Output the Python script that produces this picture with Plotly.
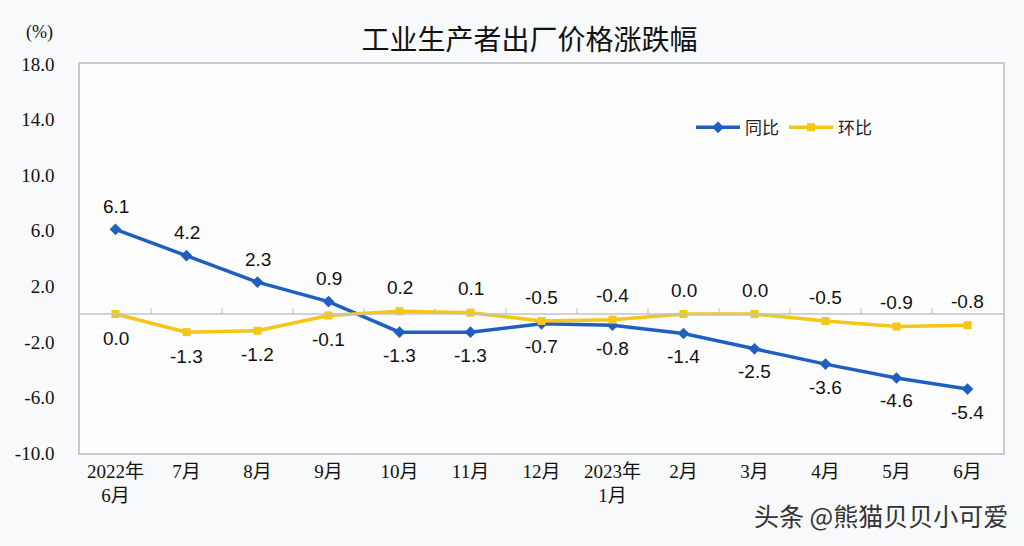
import plotly.graph_objects as go

categories = ["2022年<br>6月", "7月", "8月", "9月", "10月", "11月", "12月",
              "2023年<br>1月", "2月", "3月", "4月", "5月", "6月"]
yoy = [6.1, 4.2, 2.3, 0.9, -1.3, -1.3, -0.7, -0.8, -1.4, -2.5, -3.6, -4.6, -5.4]
mom = [0.0, -1.3, -1.2, -0.1, 0.2, 0.1, -0.5, -0.4, 0.0, 0.0, -0.5, -0.9, -0.8]
# label placement: +1 above, -1 below
yoy_side = [1, 1, 1, 1, -1, -1, -1, -1, -1, -1, -1, -1, -1]
mom_side = [-1, -1, -1, -1, 1, 1, 1, 1, 1, 1, 1, 1, 1]
y_ticks = [18.0, 14.0, 10.0, 6.0, 2.0, -2.0, -6.0, -10.0]

BLUE = "#1f5fc0"
YELLOW = "#f5c518"
x_idx = list(range(len(categories)))

fig = go.Figure()
fig.add_trace(go.Scatter(
    x=x_idx, y=yoy, name="同比", mode="lines+markers",
    line=dict(color=BLUE, width=3.5),
    marker=dict(symbol="diamond", size=9, color=BLUE),
))
fig.add_trace(go.Scatter(
    x=x_idx, y=mom, name="环比", mode="lines+markers",
    line=dict(color=YELLOW, width=3.5),
    marker=dict(symbol="square", size=8, color=YELLOW),
))

annotations = []
label_font = dict(family="Liberation Sans, Arial, sans-serif", size=19, color="#111111")
for i, (v, s) in enumerate(zip(yoy, yoy_side)):
    annotations.append(dict(x=i, y=v, xref="x", yref="y", text=f"{v:.1f}",
                            showarrow=False, yshift=23 * s, font=label_font))
for i, (v, s) in enumerate(zip(mom, mom_side)):
    annotations.append(dict(x=i, y=v, xref="x", yref="y", text=f"{v:.1f}",
                            showarrow=False, yshift=24 * s, font=label_font))

annotations.append(dict(x=-0.044, y=1.08, xref="paper", yref="paper", text="(%)",
                        showarrow=False, xanchor="center", yanchor="middle",
                        font=dict(family="Liberation Serif, serif", size=18, color="#111111")))
annotations.append(dict(x=1.008, y=-0.16, xref="paper", yref="paper",
                        text="头条 @熊猫贝贝小可爱", showarrow=False,
                        xanchor="right", yanchor="middle",
                        font=dict(family="Noto Sans CJK SC", size=25, color="#333333")))

shapes = []
# zero baseline with category boundary ticks
shapes.append(dict(type="line", xref="paper", yref="y", x0=0, x1=1, y0=0, y1=0,
                   line=dict(color="#bfc3c8", width=1.5)))
for i in range(len(categories) - 1):
    shapes.append(dict(type="line", xref="x", yref="y", x0=i + 0.5, x1=i + 0.5,
                       y0=0, y1=0.4, line=dict(color="#bfc3c8", width=1.2)))

fig.update_layout(
    width=1024, height=546,
    margin=dict(l=80, r=21, t=64, b=93),
    paper_bgcolor="#f8f9fb",
    plot_bgcolor="#fdfdfe",
    title=dict(text="工业生产者出厂价格涨跌幅", x=0.517, xanchor="center",
               y=0.927, yanchor="middle",
               font=dict(family="Noto Sans CJK SC", size=28, color="#111111")),
    legend=dict(orientation="h", x=0.662, y=0.836, xanchor="left", yanchor="middle",
                bgcolor="rgba(0,0,0,0)",
                font=dict(family="Noto Sans CJK SC", size=17, color="#222222"),
                itemwidth=44, tracegroupgap=0),
    xaxis=dict(range=[-0.5, len(categories) - 0.5], tickmode="array",
               tickvals=x_idx, ticktext=categories, showgrid=False, zeroline=False,
               showline=True, linecolor="#c8ccd0", linewidth=1.5, mirror=True,
               ticks="", tickfont=dict(family="Liberation Serif, Noto Sans CJK SC", size=19,
                                        color="#111111")),
    yaxis=dict(range=[-10, 18], tickmode="array", tickvals=y_ticks,
               ticktext=[f"{t:.1f}" for t in y_ticks], showgrid=False, zeroline=False,
               showline=True, linecolor="#c8ccd0", linewidth=1.5, mirror=True,
               ticks="", ticklabelstandoff=20,
               tickfont=dict(family="Liberation Serif, serif", size=19, color="#111111")),
    annotations=annotations,
    shapes=shapes,
    showlegend=True,
)

fig.write_html("out.html", config={"displayModeBar": False},
               post_script="document.body.style.margin='0';document.body.style.background='#f8f9fb';")
